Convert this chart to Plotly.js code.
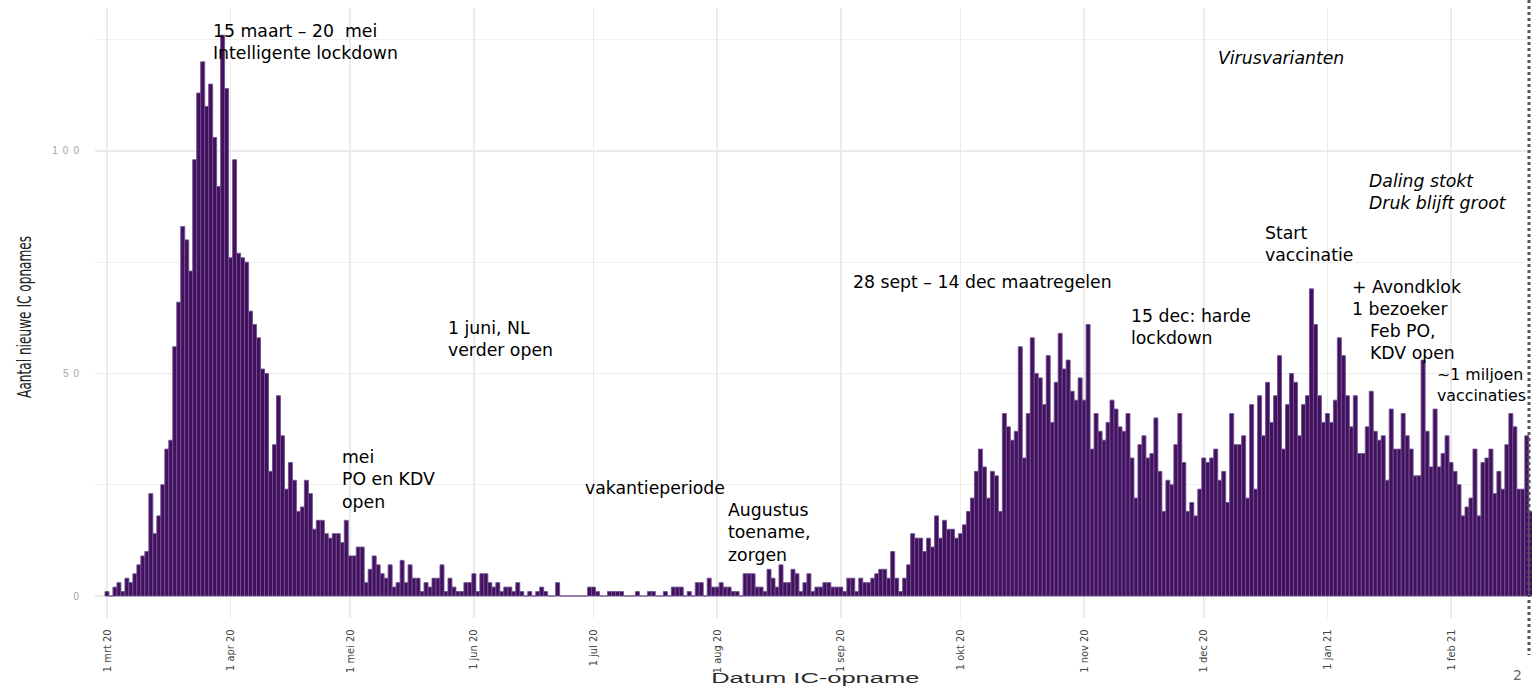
<!DOCTYPE html>
<html>
<head>
<meta charset="utf-8">
<script src="https://cdn.plot.ly/plotly-3.0.1.min.js"></script>
<style>
  html, body { margin:0; padding:0; background:#fff; }
  #chart { width:1532px; height:686px; }
  .ytick text { letter-spacing: 5px; }
  g.annotation[data-index="0"] text { transform-box: fill-box; transform-origin: center; transform: scaleX(1.7); }
  g.annotation[data-index="1"] text { transform-box: fill-box; transform-origin: center; transform: scaleY(1.5); }
</style>
</head>
<body>
<div id="chart"></div>
<script>
// ---------- DATA (daily new ICU admissions) ----------
const startDate = '2020-03-01';
const mar20 = [1,0,2,3,1,4,3,5,7,9,10,23,14,18,25,33,35,56,66,83,80,73,98,113,120,110,115,103,92,126,114];
const apr20 = [76,98,77,76,75,64,61,58,51,50,28,34,45,36,24,30,26,19,20,26,23,15,17,17,14,13,14,14,12,17];
const may20 = [9,9,11,11,3,6,9,7,5,4,7,2,3,8,3,7,4,4,1,3,2,4,4,7,1,4,2,1,1,3,3];
const jun20 = [5,1,5,5,3,2,3,1,2,2,1,3,1,0,1,0,1,2,1,0,0,3,0,0,0,0,0,0,0,2];
const jul20 = [2,1,0,0,1,1,1,1,0,0,0,1,0,0,1,1,0,0,1,0,2,2,2,0,1,0,3,3,0,4,2];
const aug20 = [2,3,2,2,1,1,0,5,5,5,2,2,1,6,4,2,7,3,3,6,5,1,3,5,1,2,2,3,3,2,2];
const sep20 = [2,1,4,4,1,4,3,3,4,5,6,6,4,10,4,1,4,7,14,13,13,10,13,11,18,13,17,15,15,13];
const oct20 = [14,16,19,22,28,33,29,22,28,27,19,41,38,35,37,56,31,41,58,50,49,43,54,39,48,59,51,53,46,44,49];
const nov20 = [44,61,33,41,37,35,39,44,42,38,37,41,31,22,34,36,31,32,40,28,19,26,25,34,41,30,19,21,18,24];
const dec20 = [31,30,31,33,26,28,21,41,34,34,36,22,43,24,45,36,48,39,45,54,33,43,50,48,36,43,45,69,61,45,39];
const jan21 = [41,39,44,58,54,45,38,45,32,32,38,46,37,35,36,26,42,33,33,41,36,33,27,27,53,37,29,42,29,32,36];
const feb21 = [30,28,25,18,20,22,33,18,30,31,33,23,28,24,34,41,38,24,24,36,19];

const tickDates  = ['2020-03-01','2020-04-01','2020-05-01','2020-06-01','2020-07-01','2020-08-01',
                    '2020-09-01','2020-10-01','2020-11-01','2020-12-01','2021-01-01','2021-02-01'];
const tickLabels = ['1 mrt 20','1 apr 20','1 mei 20','1 jun 20','1 jul 20','1 aug 20',
                    '1 sep 20','1 okt 20','1 nov 20','1 dec 20','1 jan 21','1 feb 21'];
const yTicks = [0, 50, 100];

const yTitle = 'Aantal nieuwe IC opnames';
const xTitle = 'Datum IC-opname';

// ---------- build series ----------
const values = [].concat(mar20, apr20, may20, jun20, jul20, aug20, sep20, oct20, nov20, dec20, jan21, feb21);
const t0 = Date.parse(startDate + 'T00:00:00Z');
const DAY = 86400000;
const dates = values.map((v, i) => new Date(t0 + i * DAY).toISOString().slice(0, 10));

// ---------- layout geometry ----------
const W = 1532, H = 686;
const M = { l: 95, r: 0, t: 8, b: 68 };
const PW = W - M.l - M.r, PH = H - M.t - M.b;
const px = x => (x - M.l) / PW;
const py = y => (H - M.b - y) / PH;

const xStart = new Date(t0 - 3.0 * DAY).toISOString().replace('T', ' ').slice(0, 19);
const xEnd   = new Date(t0 + 357.3 * DAY).toISOString().replace('T', ' ').slice(0, 19);

const noteFont = { family: 'DejaVu Sans, Verdana, sans-serif', size: 17.3, color: '#000' };
const notes = [
  { text: '15 maart \u2013 20 \u00a0mei<br>Intelligente lockdown', x: 211, y: 19 },
  { text: '1 juni, NL<br>verder open', x: 446, y: 316 },
  { text: 'mei<br>PO en KDV<br>open', x: 340, y: 445 },
  { text: 'vakantieperiode', x: 583, y: 476 },
  { text: 'Augustus<br>toename,<br>zorgen', x: 726, y: 498 },
  { text: '28 sept \u2013 14 dec maatregelen', x: 851, y: 270 },
  { text: '15 dec: harde<br>lockdown', x: 1129, y: 304 },
  { text: 'Start<br>vaccinatie', x: 1263, y: 221 },
  { text: '+ Avondklok<br>1 bezoeker', x: 1350, y: 275 },
  { text: 'Feb PO,<br>KDV open', x: 1368, y: 319 },
  { text: '~1 miljoen<br>vaccinaties', x: 1435, y: 363, size: 15.8 },
  { text: '<i>Virusvarianten</i>', x: 1216, y: 46 },
  { text: '<i>Daling stokt<br>Druk blijft groot</i>', x: 1367, y: 169 }
];

const annotations = [
  { text: xTitle, xref: 'paper', yref: 'paper', x: px(816), y: py(677), xanchor: 'center', yanchor: 'middle',
    showarrow: false, font: { family: 'Liberation Sans, Arial, sans-serif', size: 15, color: '#2b2b2b' } },
  { text: yTitle, xref: 'paper', yref: 'paper', x: px(24), y: py(317), xanchor: 'center', yanchor: 'middle',
    textangle: -90, showarrow: false,
    font: { family: 'Liberation Sans Narrow, DejaVu Sans Condensed, sans-serif', size: 13.5, color: '#222' } },
  { text: '2', xref: 'paper', yref: 'paper', x: px(1517), y: py(675), xanchor: 'center', yanchor: 'middle',
    showarrow: false, font: { family: 'DejaVu Sans, sans-serif', size: 14, color: '#666' } }
].concat(notes.map(n => ({
  text: n.text, xref: 'paper', yref: 'paper', x: px(n.x), y: py(n.y),
  xanchor: 'left', yanchor: 'top', align: 'left', showarrow: false,
  font: Object.assign({}, noteFont, n.size ? { size: n.size } : {})
})));

const trace = {
  type: 'bar',
  x: dates,
  y: values,
  marker: { color: '#42105c', line: { color: '#6f5192', width: 0.9 } },
  hoverinfo: 'x+y'
};

const layout = {
  width: W, height: H,
  margin: M,
  paper_bgcolor: '#fff', plot_bgcolor: '#fff',
  bargap: 0,
  showlegend: false,
  xaxis: {
    type: 'date',
    range: [xStart, xEnd],
    tickmode: 'array', tickvals: tickDates, ticktext: tickLabels,
    tickangle: -90,
    ticks: 'outside', ticklen: 6, tickcolor: 'rgba(0,0,0,0)',
    tickfont: { family: 'Liberation Sans Narrow, DejaVu Sans Condensed, sans-serif', size: 11, color: '#444' },
    showgrid: true, gridcolor: '#ebebeb', gridwidth: 1.6,
    zeroline: false, showline: false
  },
  yaxis: {
    range: [-4.94, 132.1],
    tickmode: 'array', tickvals: yTicks,
    ticks: 'outside', ticklen: 8, tickcolor: 'rgba(0,0,0,0)',
    tickfont: { family: 'Liberation Sans, Arial, sans-serif', size: 10, color: '#a3a3a3' },
    showgrid: true, gridcolor: '#ebebeb', gridwidth: 1.6,
    minor: { dtick: 25, tick0: 0, showgrid: true, gridcolor: '#f0f0f0', gridwidth: 1.2, ticks: '' },
    zeroline: false, showline: false
  },
  shapes: [
    { type: 'line', xref: 'paper', yref: 'paper', x0: px(1529), x1: px(1529), y0: py(0), y1: py(655),
      line: { color: '#555', width: 3, dash: 'dot' } }
  ],
  annotations: annotations
};

Plotly.newPlot('chart', [trace], layout, { displayModeBar: false, staticPlot: true });
</script>
</body>
</html>
